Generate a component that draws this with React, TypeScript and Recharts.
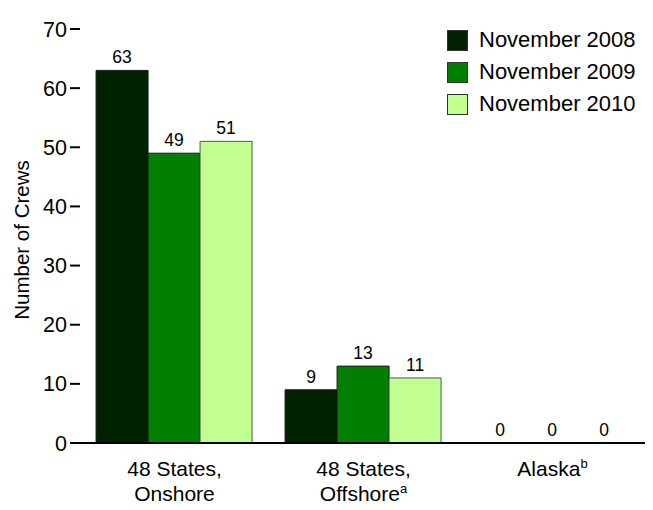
import { BarChart, Bar, XAxis, YAxis, LabelList } from "recharts";

const categories = ["48 States, Onshore", "48 States, Offshore", "Alaska"];
const tickLines: string[][] = [["48 States,", "Onshore"], ["48 States,", "Offshore"], ["Alaska"]];
const tickSups = ["", "a", "b"];
const nov2008 = [63, 9, 0];
const nov2009 = [49, 13, 0];
const nov2010 = [51, 11, 0];
const yTicks = [0, 10, 20, 30, 40, 50, 60, 70];

const series = [
  { key: "nov2008", name: "November 2008", fill: "#002200", stroke: "#1a1a1a" },
  { key: "nov2009", name: "November 2009", fill: "#007f00", stroke: "#1a1a1a" },
  { key: "nov2010", name: "November 2010", fill: "#c0ff90", stroke: "#555555" },
];

const data = categories.map((c, i) => ({
  category: c,
  nov2008: nov2008[i],
  nov2009: nov2009[i],
  nov2010: nov2010[i],
}));

const FONT = "'Liberation Sans', Arial, sans-serif";

function CategoryTick({ x, y, payload }: any) {
  const idx = categories.indexOf(payload.value);
  const lines = tickLines[idx] || [payload.value];
  const sup = tickSups[idx];
  return (
    <text x={x} y={y} textAnchor="middle" fontSize={21} fill="#000" fontFamily={FONT}>
      {lines.map((ln, i) => (
        <tspan key={i} x={x} dy={25}>
          {ln}
          {i === lines.length - 1 && sup ? (
            <tspan dy={-8} fontSize={13}>{sup}</tspan>
          ) : null}
        </tspan>
      ))}
    </text>
  );
}

// value label that is drawn for zero-height bars too
function ValueLabel(props: any) {
  const { x, y, width, value } = props;
  return (
    <text
      x={Number(x) + Number(width) / 2}
      y={Number(y) - 7}
      textAnchor="middle"
      fontSize={17.5}
      fill="#000"
      fontFamily={FONT}
    >
      {value}
    </text>
  );
}

function LegendBox() {
  return (
    <div
      style={{
        position: "absolute",
        top: 16,
        left: 439,
        fontFamily: FONT,
        fontSize: 22,
        color: "#000",
      }}
    >
      {series.map((s) => (
        <div key={s.key} style={{ display: "flex", alignItems: "center", height: 32 }}>
          <span
            style={{
              display: "inline-block",
              width: 19,
              height: 19,
              background: s.fill,
              border: "1px solid #333",
              marginRight: 11,
            }}
          />
          <span>{s.name}</span>
        </div>
      ))}
    </div>
  );
}

export default function App() {
  return (
    <div style={{ position: "relative", width: 645, height: 502, fontFamily: FONT }}>
      <BarChart
        width={645}
        height={502}
        data={data}
        margin={{ top: 21, right: 6, left: 0, bottom: 5 }}
        barCategoryGap="8.5%"
        barGap={0}
      >
        <YAxis
          domain={[0, 70]}
          ticks={yTicks}
          width={72}
          axisLine={false}
          tickLine={{ stroke: "#000", strokeWidth: 2 }}
          tickSize={10}
          tickMargin={3}
          tick={{ fontSize: 21.5, fill: "#000", fontFamily: FONT }}
          label={{
            value: "Number of Crews",
            angle: -90,
            position: "insideLeft",
            dx: 9,
            dy: 4,
            style: { fontSize: 20.5, fill: "#000", fontFamily: FONT, textAnchor: "middle" },
          }}
        />
        <XAxis
          dataKey="category"
          axisLine={{ stroke: "#000", strokeWidth: 2 }}
          tickLine={false}
          height={62}
          interval={0}
          tick={<CategoryTick />}
        />
        {series.map((s) => (
          <Bar
            key={s.key}
            dataKey={s.key}
            name={s.name}
            fill={s.fill}
            stroke={s.stroke}
            strokeWidth={1}
            minPointSize={0.01}
            isAnimationActive={false}
          >
            <LabelList dataKey={s.key} content={<ValueLabel />} />
          </Bar>
        ))}
      </BarChart>
      <LegendBox />
    </div>
  );
}
